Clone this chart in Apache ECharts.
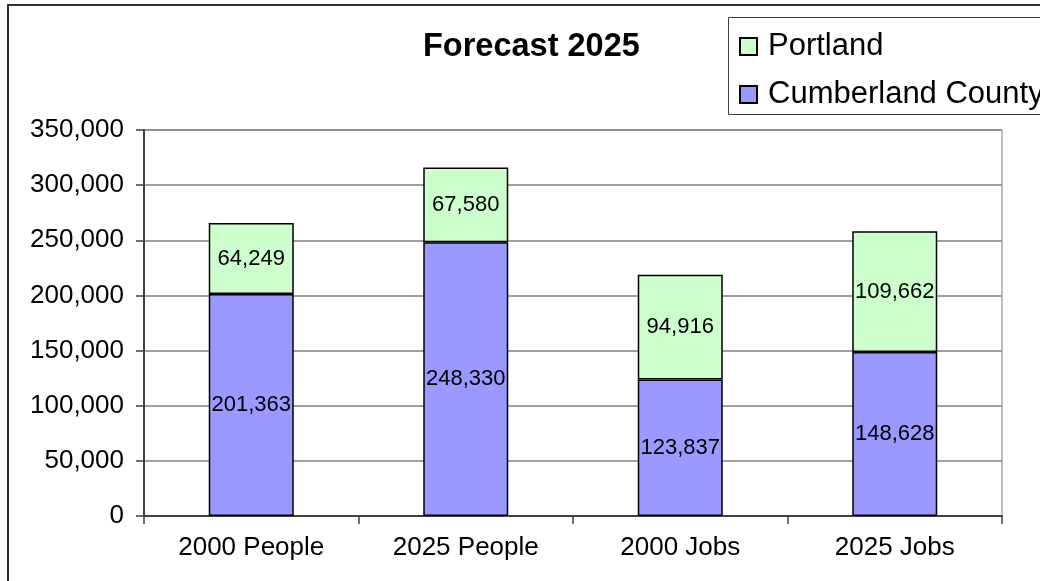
<!DOCTYPE html>
<html>
<head>
<meta charset="utf-8">
<script src="https://cdn.jsdelivr.net/npm/echarts@6/dist/echarts.min.js"></script>
<style>
  html, body { margin: 0; padding: 0; background: #ffffff; }
  #chart { width: 1040px; height: 581px; }
</style>
</head>
<body>
<div id="chart"></div>
<script>
// Population and employment forecast, stacked by area
const categories = ['2000 People', '2025 People', '2000 Jobs', '2025 Jobs'];
const cumberlandCounty = [201363, 248330, 123837, 148628];
const portland = [64249, 67580, 94916, 109662];
const yTicks = [0, 50000, 100000, 150000, 200000, 250000, 300000, 350000];

const FONT = "'Liberation Sans', Arial, sans-serif";
const fmt = v => Number(v).toLocaleString('en-US');

const chart = echarts.init(document.getElementById('chart'), null, { renderer: 'canvas' });

chart.setOption({
  backgroundColor: '#ffffff',
  animation: false,
  title: {
    text: 'Forecast 2025',
    left: 423,
    top: 31,
    padding: 0,
    textStyle: { fontFamily: FONT, fontSize: 32.5, fontWeight: 'bold', color: '#000000', lineHeight: 32 }
  },
  graphic: [
    {
      type: 'rect', silent: true, z: -1,
      shape: { x: 8, y: 5, width: 1100, height: 1000 },
      style: { fill: 'none', stroke: '#303030', lineWidth: 2 }
    },
    {
      type: 'rect', silent: true, z: -1,
      shape: { x: 728.5, y: 17.5, width: 400, height: 97 },
      style: { fill: '#ffffff', stroke: '#404040', lineWidth: 1 }
    }
  ],
  legend: {
    orient: 'vertical',
    left: 739,
    top: 31,
    padding: 0,
    itemGap: 17,
    itemWidth: 17,
    itemHeight: 17,
    icon: 'rect',
    data: ['Portland', 'Cumberland County'],
    textStyle: { fontFamily: FONT, fontSize: 31, lineHeight: 30, color: '#000000', padding: [0, 0, 0, 6] }
  },
  grid: {
    left: 144, right: 38, top: 130, bottom: 65,
    show: true, borderColor: '#808080', borderWidth: 1, backgroundColor: 'transparent'
  },
  xAxis: {
    type: 'category',
    data: categories,
    boundaryGap: true,
    axisLine: { show: true, lineStyle: { color: '#404040', width: 2 } },
    axisTick: { show: true, length: 8, interval: 0, lineStyle: { color: '#404040', width: 1.5 } },
    axisLabel: { fontFamily: FONT, fontSize: 26, color: '#000000', margin: 19 }
  },
  yAxis: {
    type: 'value',
    min: yTicks[0],
    max: yTicks[yTicks.length - 1],
    interval: yTicks[1] - yTicks[0],
    axisLine: { show: true, lineStyle: { color: '#404040', width: 2 } },
    axisTick: { show: true, length: 8, lineStyle: { color: '#404040', width: 1.5 } },
    splitLine: { show: true, lineStyle: { color: '#808080', width: 1.5 } },
    axisLabel: { fontFamily: FONT, fontSize: 26, color: '#000000', margin: 20, formatter: fmt }
  },
  series: [
    {
      name: 'Cumberland County',
      type: 'bar',
      stack: 'total',
      barWidth: 85,
      data: cumberlandCounty,
      itemStyle: { color: '#9999ff', borderColor: '#000000', borderWidth: 1.5 },
      label: {
        show: true, position: 'inside', color: '#000000',
        fontFamily: FONT, fontSize: 22,
        formatter: p => fmt(p.value)
      }
    },
    {
      name: 'Portland',
      type: 'bar',
      stack: 'total',
      barWidth: 85,
      data: portland,
      itemStyle: { color: '#ccffcc', borderColor: '#000000', borderWidth: 1.5 },
      label: {
        show: true, position: 'inside', color: '#000000',
        fontFamily: FONT, fontSize: 22,
        formatter: p => fmt(p.value)
      }
    }
  ]
});
</script>
</body>
</html>
